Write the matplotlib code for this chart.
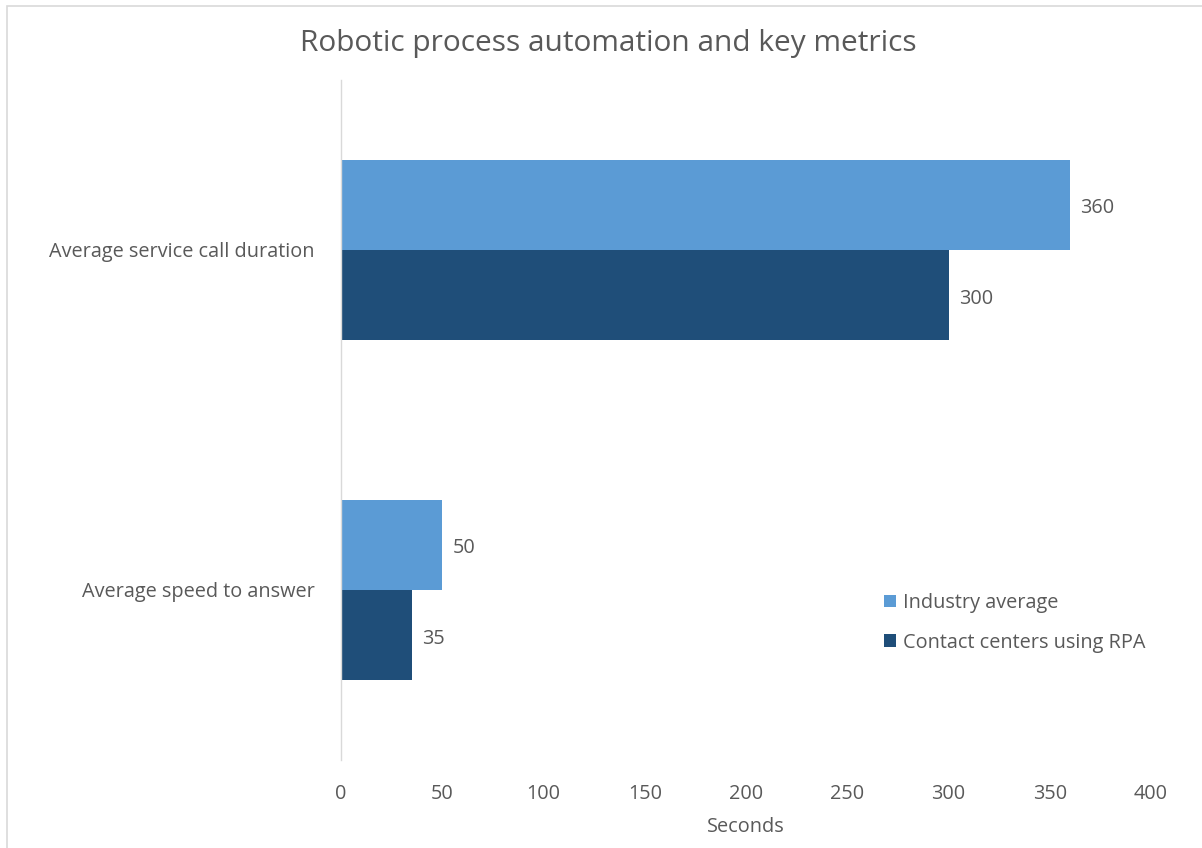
import matplotlib
matplotlib.use("Agg")
import matplotlib.pyplot as plt
from matplotlib.patches import Rectangle
import numpy as np

categories = ["Average service call duration", "Average speed to answer"]
series_names = ["Industry average", "Contact centers using RPA"]
industry = [360, 50]
rpa = [300, 35]
xticks = [0, 50, 100, 150, 200, 250, 300, 350, 400]

plt.rcParams['font.family'] = ['Open Sans', 'DejaVu Sans']
TXT = '#595959'
C1 = '#5B9BD5'
C2 = '#1F4E79'
FS = 14.3

fig = plt.figure(figsize=(12.02, 8.48), dpi=100)
ax = fig.add_axes([341/1202, 1-760/848, (1151-341)/1202, (760-80)/848])

y = np.arange(len(categories))
h = 0.265
b1 = ax.barh(y - h/2, industry, height=h, color=C1, label=series_names[0])
b2 = ax.barh(y + h/2, rpa, height=h, color=C2, label=series_names[1])
ax.set_ylim(1.5, -0.5)
ax.set_xlim(0, 400)
ax.set_xticks(xticks)
ax.set_yticks(y)
ax.set_yticklabels(categories)
ax.tick_params(axis='both', length=0, labelsize=FS, colors=TXT)
ax.tick_params(axis='x', pad=17)
ax.tick_params(axis='y', pad=19)
for s in ['top', 'right', 'bottom']:
    ax.spines[s].set_visible(False)
ax.spines['left'].set_color('#D9D9D9')
ax.spines['left'].set_linewidth(1)

for bars in (b1, b2):
    for r in bars:
        w = r.get_width()
        ax.annotate(f"{w:g}", (w, r.get_y() + r.get_height()/2),
                    xytext=(7.5, -2.5), textcoords='offset points',
                    va='center', ha='left', fontsize=FS, color=TXT)

ax.set_xlabel("Seconds", fontsize=FS, color=TXT, labelpad=10)
fig.text(608/1202, 1-43/848, "Robotic process automation and key metrics",
         ha='center', va='center', fontsize=21.5, color=TXT)

leg = fig.legend(handles=[b1, b2], loc='upper left',
                 bbox_to_anchor=(866/1202, 1-575/848), frameon=False,
                 fontsize=FS, handlelength=0.6, handleheight=0.6,
                 handletextpad=0.35, labelspacing=1.0, labelcolor=TXT)

fig.patches.append(Rectangle((7/1202, -0.1), 1.2, (848-6)/848 + 0.1,
                             transform=fig.transFigure, fill=False,
                             edgecolor='#D9D9D9', linewidth=1.2))

fig.savefig("out.png", dpi=100)
